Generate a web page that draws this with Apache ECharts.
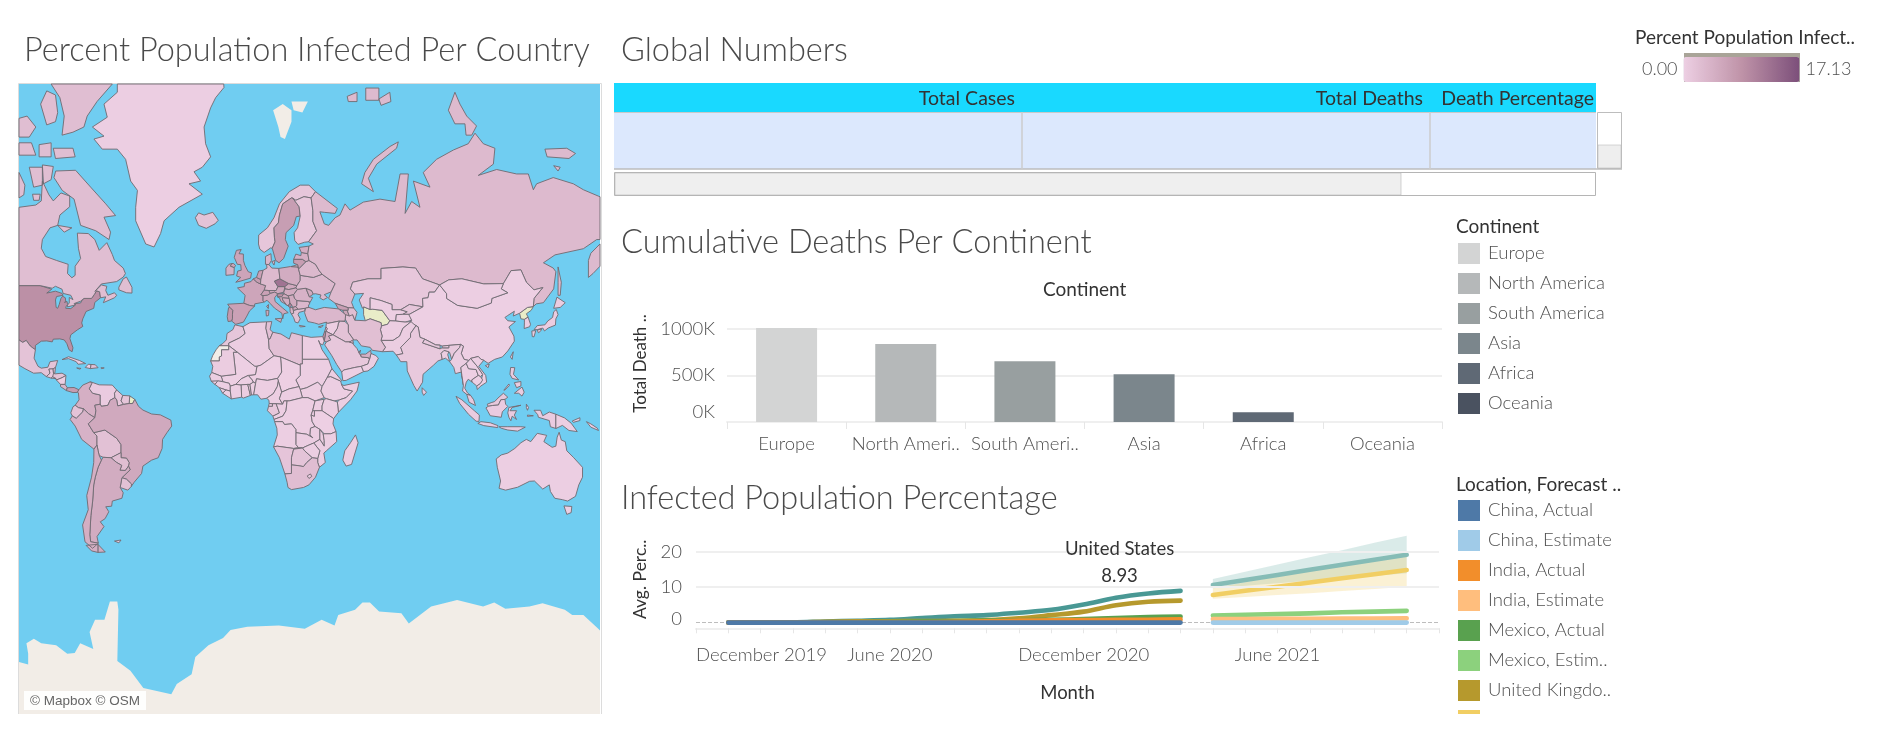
<!DOCTYPE html>
<html><head><meta charset="utf-8">
<style>html,body{margin:0;padding:0;background:#fff}#c{width:1880px;height:731px}</style>
<script src="https://cdn.jsdelivr.net/npm/echarts@6/dist/echarts.min.js"></script>
</head><body><div id="c"></div>
<script>
// ---------- values ----------
const continents = ['Europe','North America','South America','Asia','Africa','Oceania'];
const continentDeaths = [1007000,835000,652000,512000,104000,1000];
const continentColors = ['#D3D4D4','#B5B8B9','#989FA0','#7B868C','#5F6975','#4A5260'];

const months = ['December 2019','January 2020','February 2020','March 2020','April 2020','May 2020','June 2020','July 2020','August 2020','September 2020','October 2020','November 2020','December 2020','January 2021','February 2021','March 2021','April 2021','May 2021','June 2021','July 2021','August 2021','September 2021','October 2021','November 2021'];
const usActual   = [null,0.00,0.00,0.06,0.30,0.52,0.78,1.30,1.80,2.10,2.80,3.60,5.10,7.00,8.20,8.93];
const ukActual   = [null,0.00,0.00,0.03,0.20,0.35,0.40,0.45,0.52,0.70,1.20,2.10,3.10,4.90,5.90,6.20];
const mxActual   = [null,0.00,0.00,0.00,0.02,0.08,0.18,0.30,0.45,0.55,0.68,0.80,1.00,1.30,1.55,1.70];
const inActual   = [null,0.00,0.00,0.00,0.00,0.01,0.03,0.08,0.20,0.36,0.55,0.65,0.73,0.77,0.80,0.90];
const cnActual   = [null,0.00,0.01,0.01,0.01,0.01,0.01,0.01,0.01,0.01,0.01,0.01,0.01,0.01,0.01,0.01];
const pad = 16; // months before the estimates begin
const usEst = [10.6,12.0,13.4,14.9,16.3,17.7,19.1];
const usLow = [9.7,10.4,11.1,11.8,12.5,13.2,13.9];
const usHigh= [12.3,14.3,16.4,18.4,20.4,22.5,24.5];
const ukEst = [7.8,9.0,10.1,11.3,12.5,13.6,14.8];
const ukLow = [6.7,7.2,7.8,8.3,8.9,9.5,10.1];
const ukHigh= [9.7,11.4,13.0,14.7,16.4,18.1,19.8];
const mxEst = [2.0,2.2,2.4,2.6,2.9,3.1,3.3];
const inEst = [1.0,1.03,1.07,1.1,1.13,1.17,1.2];
const cnEst = [0.01,0.01,0.01,0.01,0.01,0.01,0.01];

const locationLegend = ['China, Actual','China, Estimate','India, Actual','India, Estimate','Mexico, Actual','Mexico, Estimate','United Kingdom, Actual','United Kingdom, Estimate','United States, Actual','United States, Estimate'];
const locationColors = {'China, Actual':'#4E79A7','China, Estimate':'#A0CBE8','India, Actual':'#F28E2B','India, Estimate':'#FFBE7D','Mexico, Actual':'#59A14F','Mexico, Estimate':'#8CD17D','United Kingdom, Actual':'#B6992D','United Kingdom, Estimate':'#F1CE63','United States, Actual':'#499894','United States, Estimate':'#86BCB6'};

const mapCountries = ['United States','Canada','Mexico','Guatemala','Belize','Honduras','El Salvador','Nicaragua','Costa Rica','Panama','Cuba','Haiti','Dominican Republic','Jamaica','Puerto Rico','Colombia','Venezuela','Guyana','Suriname','Ecuador','Peru','Bolivia','Brazil','Paraguay','Uruguay','Argentina','Chile','Falkland Islands','Greenland','Iceland','Norway','Sweden','Finland','Denmark','United Kingdom','Ireland','France','Spain','Portugal','Belgium','Netherlands','Germany','Switzerland','Austria','Czechia','Slovakia','Poland','Hungary','Italy','Slovenia','Croatia','Bosnia','Serbia','Montenegro','Albania','North Macedonia','Greece','Bulgaria','Romania','Moldova','Ukraine','Belarus','Lithuania','Latvia','Estonia','Russia','Kazakhstan','Uzbekistan','Kyrgyzstan','Tajikistan','Afghanistan','Pakistan','Iran','Iraq','Turkey','Georgia','Armenia','Azerbaijan','Syria','Lebanon','Israel','Jordan','Saudi Arabia','Yemen','Oman','UAE','Qatar','Kuwait','Cyprus','China','Taiwan','Mongolia','South Korea','Japan','India','Nepal','Bhutan','Bangladesh','Myanmar','Thailand','Laos','Vietnam','Cambodia','Malaysia','Indonesia','Papua New Guinea','Philippines','Sri Lanka','Australia','Morocco','Algeria','Tunisia','Libya','Egypt','Sudan','South Sudan','Chad','Niger','Mali','Mauritania','Senegal','Guinea-Bissau','Guinea','Sierra Leone','Liberia','Ivory Coast','Burkina Faso','Ghana','Togo','Benin','Nigeria','Cameroon','Central African Republic','Equatorial Guinea','Gabon','Congo','DR Congo','Uganda','Ethiopia','Eritrea','Somalia','Kenya','Tanzania','Rwanda','Zambia','Malawi','Mozambique','Zimbabwe','Angola','Namibia','Botswana','South Africa','Lesotho','Madagascar'];
const mapValues = [9.0,2.4,1.7,1.0,2.9,1.7,1.0,0.1,3.9,7.2,0.5,0.1,2.1,0.9,3.0,4.5,0.5,1.1,1.4,1.7,4.1,2.0,5.4,2.4,2.0,5.0,4.7,0.6,0.1,1.7,1.3,7.0,1.2,3.7,6.1,4.3,6.0,6.6,7.8,7.2,6.6,3.0,6.5,5.5,12.5,5.4,5.0,5.0,5.6,9.0,5.6,4.8,5.2,11.0,4.0,5.8,2.2,3.4,4.1,5.2,3.1,3.2,7.2,4.5,4.8,3.0,1.1,0.2,1.3,0.2,0.1,0.3,2.3,1.9,3.4,6.8,5.9,2.4,0.1,5.8,9.0,4.5,1.1,0.01,0.1,4.4,5.6,4.7,3.4,0.01,0.01,0.1,0.2,0.4,0.9,0.9,0.1,0.3,0.3,0.04,0.01,0.01,0.01,1.0,0.5,0.1,0.6,0.4,0.1,1.3,0.3,2.1,2.1,0.2,0.1,0.1,0.03,0.02,0.05,0.4,0.3,0.2,0.2,0.05,0.05,0.1,0.06,0.3,0.1,0.05,0.1,0.15,0.1,0.5,1.2,0.2,0.1,0.1,0.1,0.1,0.1,0.2,0.01,0.1,0.3,0.3,0.2,0.2,0.1,1.5,1.6,2.5,0.5,0.1];

// ---------- map geometry, lon,lat rings ----------
const LL = -104.7, LR = 161.2, LT = 81.48, LB = -80.08;
const geometry = {
'United States':'-104.7,49 -95,49 -89.7,47.9 -92,46.7 -88,47.3 -85,46.6 -84.5,46 -87.5,45.6 -88,44.5 -87.7,42 -87,41.7 -86.3,43 -85.5,45 -84.7,45.7 -83.5,45.2 -83.3,44 -83.9,43.7 -82.7,44 -82.5,43 -83.2,42.2 -83.3,41.7 -81,41.6 -78.9,42.8 -79,43.3 -76.5,43.5 -76,44.2 -75,45 -71.5,45 -70.3,46.2 -69.2,47.4 -67.8,47.1 -67.4,45.2 -70,43.7 -70.5,41.7 -74,40.6 -75.5,38 -76,36.5 -75.5,35.2 -78,33.9 -81,32 -81.4,30.5 -80,26.8 -80.4,25.2 -81.8,26 -82.8,28.5 -84,30 -86,30.4 -89,30.3 -89.5,29.2 -92,29.6 -94.5,29.5 -97.2,27.8 -97.2,26 -99.5,27.5 -101.4,29.8 -103,29 -104.7,30',
'Canada':'-104.7,49 -95,49 -89.5,48.2 -88,48.8 -85,47.9 -84.5,46.6 -81,46 -80,44.6 -81.7,45.3 -81.7,43.5 -82.5,42.8 -82.5,42.2 -79,42.8 -79.5,43.3 -76.5,44.1 -75,45 -71.5,45 -70.3,46.2 -69.2,47.4 -67.8,47.1 -67.4,45.2 -65,45.5 -66.1,43.6 -61,45.2 -60,46 -61,46.8 -64,46 -65,47.5 -64.5,48.8 -67,49.2 -70,47.2 -67,49.5 -60,50.2 -57,51.5 -56,52.5 -57,54 -61,56 -62,57.5 -64.5,60.3 -68,58.5 -70,61 -73,62.3 -78,62.4 -77.5,59 -76.5,56.5 -79,54.5 -79,52 -80.5,51.3 -82.5,52.5 -82.2,55 -87.5,56 -92.5,57 -94.5,59 -94,61 -90.5,63.5 -87,64 -86,66 -81.5,67.5 -81.5,69.3 -85.5,69.8 -89,68.5 -91,69.5 -94,71.6 -94.5,68.5 -97,67.8 -104.7,67.4|-87.9,73 -78.8,73.1 -71.9,70.7 -65,68 -60.5,65.9 -65.8,65.6 -62.8,62.6 -63.5,61 -69.6,62.9 -76.5,64 -79.5,68.8 -84.9,70.2 -88.7,72.1|-104.7,72.8 -102,71 -102.5,69.5 -104.7,69|-90,81.48 -62,81.48 -69,80.2 -73.5,79 -75,78 -80,77.5 -85,77.2 -84,79 -86,80.5|-94.8,80 -92,81 -88,80.7 -87,79.3 -88,78.5 -92,78.2|-89,75.8 -80,75.8 -79,74.8 -88,74.6|-95.5,76.2 -90,76.4 -90,74.8 -95.5,74.8|-104.7,78.8 -101,79 -97,78 -100,77 -104.7,77|-104.7,76.4 -99,76.4 -97,75 -104.7,75|-100,73.5 -94,73.5 -94,71 -98,70.7|-94,73.8 -89,73.6 -90,71.8 -93.5,71.2|-98.5,69.6 -95,69.6 -95.5,68.6 -98,68.6|-59,47.7 -55.5,46.8 -53,46.7 -53,48.5 -55.5,51.5 -57,51 -59,48.5|-87,64 -80.5,63.5 -84,62.6',
'Greenland':'-10.9,81.24 -14.7,80.5 -17,79.7 -20,78 -19.3,76.3 -17,74.8 -20.8,73.5 -24.6,72.9 -21.6,71.6 -26.9,71.2 -20.8,69.6 -31.5,67.4 -38.3,64.9 -39.9,62.3 -42.9,59.3 -46.7,60 -51.3,64.9 -51.3,67.4 -50.5,70.2 -53.6,71.6 -55.9,74.5 -59.7,75.7 -66.6,75.7 -70.4,76.8 -65.8,77.1 -71.1,78 -64.3,78.9 -65.8,80 -59.7,80.9 -59.7,81.48 -11,81.48',
'Iceland':'-24,65.5 -22.5,64 -19,63.4 -15,64.3 -13.5,65 -16,66.5 -20,66 -22.5,66.4',
'Mexico':'-104.7,30 -103,29 -101.4,29.8 -99.5,27.5 -97.2,26 -97.8,22.5 -96,19 -94.5,18.2 -91.5,18.6 -90.5,21 -87,21.5 -88,18.5 -89.1,17.9 -91,17.8 -90.5,16 -92.2,14.5 -94.5,16.2 -98,16 -102,18 -104.7,19.5',
'Guatemala':'-92.2,14.5 -90.5,16 -91,17.8 -89.1,17.9 -88.9,15.9 -88.2,15.7 -89.3,14.4 -90,13.8',
'Belize':'-89.1,17.9 -88,18.5 -88.3,16 -88.9,15.9',
'Honduras':'-88.9,15.9 -88.2,15.7 -85,16 -83.2,15 -85,14 -87.3,13 -89.3,14.4',
'El Salvador':'-90,13.8 -89.3,14.4 -87.7,13.6 -88,13.2',
'Nicaragua':'-83.2,15 -83.6,11 -85.7,11 -87.6,13 -85,14',
'Costa Rica':'-83.6,11 -82.6,9.5 -83,8.2 -85.7,10 -85.7,11',
'Panama':'-82.6,9.5 -79.5,9.6 -77.3,8.6 -78,7.4 -80,7.3 -83,8.2',
'Cuba':'-85,21.9 -82,23.1 -77,21.5 -74.2,20.2 -77.7,19.9 -78.5,21 -82,22.3',
'Haiti':'-74.4,18.5 -72,18 -71.7,19.8 -73,19.9',
'Dominican Republic':'-71.7,19.8 -72,18 -68.5,18.4 -69.8,19.7',
'Jamaica':'-78.3,18.3 -76.3,18.1 -77,17.8',
'Puerto Rico':'-67.2,18.4 -65.7,18.3 -67,18',
'Colombia':'-77.3,8.6 -75.5,10.7 -72,12.2 -71.3,11.5 -72.5,9 -71,7 -67.5,6.2 -67.5,2 -70,1.5 -69.5,-1 -70,-4.2 -72.8,-2.4 -75.2,-0.1 -77.5,0.4 -79,1.5 -77.2,4 -77.5,7.2 -78,7.4',
'Venezuela':'-72,12.2 -68,10.8 -62,10.7 -60,8.5 -61,7 -60.8,5 -63,3.8 -64,1.5 -67,1 -67.5,2 -67.5,6.2 -71,7 -72.5,9 -71.3,11.5',
'Guyana':'-60,8.5 -57.2,6 -58,3.5 -56.8,1.9 -59.5,1.2 -60,4 -60.8,5 -61,7',
'Suriname':'-57.2,6 -54,5.8 -54.3,2.3 -56.8,1.9 -58,3.5',
'Ecuador':'-79,1.5 -77.5,0.4 -75.2,-0.1 -75.5,-1.5 -78.5,-4.5 -80.3,-3.4 -81,-2 -80,0.8',
'Peru':'-75.2,-0.1 -72.8,-2.4 -70,-4.2 -73,-7 -70.5,-11 -69,-12.5 -69,-16.5 -70.4,-18.3 -76,-14 -79,-8 -81.3,-5 -80.3,-3.4 -78.5,-4.5 -75.5,-1.5',
'Bolivia':'-70.5,-11 -65.4,-9.8 -60,-13.5 -58,-16.3 -58,-19.8 -62.6,-22 -66.2,-21.8 -68,-21 -68.5,-19 -69,-16.5 -69,-12.5',
'Brazil':'-51.7,4.2 -50,1 -48,-0.7 -44,-2.5 -40,-2.9 -35.2,-5.3 -34.8,-8 -37,-11 -39,-14 -39.2,-18 -41,-22 -44,-23 -48,-25.5 -48.6,-28.5 -52,-32 -53.4,-33.7 -53.2,-32.7 -55.5,-30.8 -57.6,-30.2 -53.8,-27 -54.6,-25.5 -54.3,-24 -55.5,-22.2 -58,-22 -58,-19.8 -58,-16.3 -60,-13.5 -65.4,-9.8 -70.5,-11 -73,-7 -70,-4.2 -69.5,-1 -70,1.5 -67.5,2 -67,1 -64,1.5 -63,3.8 -60.8,5 -60,4 -59.5,1.2 -56.8,1.9 -54.3,2.3 -52.7,2.3',
'Paraguay':'-58,-19.8 -58,-22 -55.5,-22.2 -54.3,-24 -54.6,-25.5 -56,-27.3 -58.5,-27.2 -57.7,-25.2 -60,-24 -62.6,-22',
'Uruguay':'-57.6,-30.2 -55.5,-30.8 -53.2,-32.7 -53.4,-33.7 -54.9,-35 -58.4,-34',
'Argentina':'-66.2,-21.8 -62.6,-22 -60,-24 -57.7,-25.2 -58.5,-27.2 -56,-27.3 -54.6,-25.5 -53.8,-27 -57.6,-30.2 -58.4,-34 -57,-36 -57.6,-38 -62,-39 -62.3,-40.8 -65,-41 -63.6,-42.7 -65.3,-45 -67.5,-46 -65.8,-47.5 -69,-50.5 -68.4,-52.4 -71.9,-52 -72.3,-50 -71.8,-44 -71,-39 -70.5,-33 -69.8,-30 -68.5,-26 -67,-23|-68.6,-52.7 -65.2,-54.8 -68.6,-54.9',
'Chile':'-70.4,-18.3 -69,-16.5 -68.5,-19 -68,-21 -67,-23 -68.5,-26 -69.8,-30 -70.5,-33 -71,-39 -71.8,-44 -72.3,-50 -71.9,-52 -68.4,-52.4 -71,-53.8 -74.5,-52 -75.6,-47 -73,-42 -73.7,-37 -71.5,-30 -70.5,-24|-68.6,-52.7 -68.6,-54.9 -71.5,-54.5 -74,-53',
'Falkland Islands':'-61,-51.8 -58,-51.5 -59,-52.3',
'Norway':'4.9,60 5.5,58.8 7.5,58 10.5,59.1 11.2,59 12.5,60.5 12.2,61.5 12,63.5 14,64.5 14.5,66 16,68 20,69 22,68.6 25.7,69.2 29,69 31,70 28,71 24,71 19,70 14.5,68 12,65.5 9,63.5 5,62',
'Sweden':'11.2,59 12.8,56 14.3,55.4 16.4,56.5 18.5,59.5 17.2,61 17.5,62.5 21,64 22.2,65.7 24,65.8 23.5,67.5 20.5,69 20,69 16,68 14.5,66 14,64.5 12,63.5 12.2,61.5 12.5,60.5',
'Finland':'24,65.8 22.8,63.5 21.2,62.5 21.5,60.8 23,59.9 26,60.4 27.8,60.5 31.5,62.9 29.8,64.8 29.8,66.8 29,69 25.7,69.2 22,68.6 20.5,69 23.5,67.5',
'Denmark':'8.1,55 8.1,57 10.6,57.7 10.8,56 9.7,54.9|11,55.7 12.5,56 12,54.8',
'United Kingdom':'-5.5,50 -3.5,50.3 1.3,51.2 1.7,52.7 0.2,53 -1.3,54.7 -2,56 -2,57.6 -4,57.7 -3,58.7 -5.2,58.5 -6.2,56.8 -4.8,55 -3.2,54.9 -3,53.4 -4.6,53.2 -5.1,51.8 -3.2,51.4|-8,54.5 -6.2,54.1 -5.6,54.7 -6.5,55.2 -7.4,55.2',
'Ireland':'-10,52 -6.3,52.2 -6.2,54.1 -8,54.5 -7.4,55.2 -8.6,55 -10,54',
'France':'-1.8,43.4 -1.2,46 -4.7,48.3 -1.6,48.7 -1.5,49.7 1.5,50.2 2.5,51 4.2,50 5.8,49.5 8.2,49 7.5,47.6 6,46.2 7,45.9 7,44.2 7.5,43.8 3.2,43.2 3.1,42.4 0.7,42.7|8.6,42.4 9.5,43 9.4,41.6',
'Spain':'-9.2,43.1 -1.8,43.4 0.7,42.7 3.1,42.4 0.8,40.8 -0.4,39 -2,36.8 -5.5,36 -7.4,37.2 -7,38.2 -7,39.6 -6.9,41 -8.2,42',
'Portugal':'-8.2,42 -6.9,41 -7,39.6 -7,38.2 -7.4,37.2 -9,37 -9.4,38.8 -8.8,41.9',
'Belgium':'2.5,51 4,51.4 6,50.8 5.8,49.5 4.2,50',
'Netherlands':'4,51.4 5,53.2 7,53.4 6,50.8',
'Germany':'6,50.8 7,53.4 8.8,54 8.6,55 9.7,54.9 11,54 14.2,53.9 14.7,51 12.2,50.3 13.8,48.7 13,47.5 9.6,47.5 7.5,47.6 8.2,49 5.8,49.5',
'Switzerland':'6,46.2 7.5,47.6 9.6,47.5 10.4,46.6 9,46 7,45.9',
'Austria':'9.6,47.5 13,47.5 13.8,48.7 17,48.7 16.5,47 13.7,46.5 12.3,47 10.4,46.6',
'Czechia':'12.2,50.3 14.7,51 18.8,49.6 17,48.7 13.8,48.7',
'Slovakia':'17,48.7 18.8,49.6 22.5,49 22,48.3 18.8,47.8 17,48',
'Poland':'14.2,53.9 19.5,54.4 23,54.3 24,52 24,50.5 22.5,49 18.8,49.6 14.7,51',
'Hungary':'16.5,47 17,48 18.8,47.8 22,48.3 22.8,47.9 21,46.2 18.5,45.8 16.5,46.5',
'Italy':'7,44.2 7,45.9 9,46 10.4,46.6 12.3,47 13.7,46.5 12.3,45.2 12.5,44 16,41.8 18.5,40.2 16.5,39.8 16,38 15.6,40 12.2,41.8 10.3,43.3 8.8,44.4 7.5,43.8|12.5,38 15.6,38.2 15.1,36.7|8.3,41 9.7,41 9.5,39.2 8.5,39',
'Slovenia':'13.7,46.5 16.5,46.5 15.5,45.5 13.6,45.5',
'Croatia':'13.6,45.5 14.5,45.2 15.2,44 17.5,43 18.5,42.5 17.7,42.9 16,44.5 15.8,45.2 19,45 18.5,45.8 16.5,46.5 15.5,45.5',
'Bosnia':'15.8,45.2 16,44.5 17.7,42.9 18.5,42.5 19.3,43.5 19,45',
'Serbia':'19,45 18.5,45.8 21,46.2 21.4,45 22.5,44.3 22.5,42.8 22,42.3 20.6,42 20.1,42.7 19.3,43.5',
'Montenegro':'18.5,42.5 19.3,41.9 20.1,42.7 19.3,43.5',
'Albania':'19.3,41.9 20.6,42 20.9,40.9 21,40 20,39.7 19.4,40.5',
'North Macedonia':'20.6,42 22,42.3 23,41.4 20.9,40.9',
'Greece':'21,40 20.9,40.9 23,41.4 26.3,41.7 26,40.8 23.5,40.3 23,39.5 24,38 23,36.5 21.7,36.8 21,38.4 20,39.7|23.6,35.6 26.3,35.2 24,35',
'Bulgaria':'22.5,42.8 22.5,44.3 27.5,44 28.5,43.6 27.7,42.5 28,42 26.3,41.7 23,41.4 22,42.3',
'Romania':'21,46.2 22.8,47.9 26.6,48.2 28.2,45.5 29.7,45.3 28.6,43.8 27.5,44 22.5,44.3 21.4,45',
'Moldova':'26.6,48.2 29.2,47.5 30,46.4 28.2,45.5',
'Ukraine':'22,48.3 22.5,49 24,50.5 24,52 30,51.4 34,52.3 40,49.6 38.2,47.1 35,46.2 36.5,45.3 34.5,44.5 33,45.2 33.5,46.1 31,46.5 30,46.4 29.2,47.5 26.6,48.2 22.8,47.9',
'Belarus':'24,52 23,54.3 23.5,53.9 26.6,55.7 28,56 31,55 32.7,53.3 34,52.3 30,51.4',
'Lithuania':'21,55.3 21,56.3 25,56.3 26.6,55.7 23.5,53.9 23,54.3 22.8,54.9',
'Latvia':'21,56.3 22,57.6 24.3,57.2 24.5,58 27.5,57.7 28,56 26.6,55.7 25,56.3',
'Estonia':'24.5,58 23.5,59.2 28,59.5 27.5,57.7',
'Russia':'28,59.5 30,60 27.8,60.5 31.5,62.9 29.8,64.8 29.8,66.8 29,69 31,70 41,67.2 40,66.3 35,66.5 33,66.6 35,64.3 37,64 40,65.5 42.2,66 44.5,68 46.8,66.9 52.9,68.3 60.5,68.8 67.4,68.4 69.7,72.6 73.5,72.6 72,66.3 75,68.4 78.8,67.4 75.8,71.6 83.4,70.7 80.3,72.8 86.4,74.5 94.1,75.6 100.9,76.3 104,77.4 107.8,76.3 113.1,75.8 112.4,73.9 105.5,72.4 113.9,73.2 123,72.6 128.4,72.6 130.7,70.3 132.2,71.2 139.8,72.1 149,71.2 153.6,70.3 160.4,69.3 161.2,69.2 161.2,61 159.7,61 153.6,58.9 140.6,57.4 135.3,55.4 139.8,54 141,53 140,48 135.3,43.6 132,43.2 130.7,42.3 131,45 135,48.4 131,47.7 127.5,50 125,53.5 120.5,53.3 117,49.6 108,49.5 98,51 92,50.7 87.8,49.2 80,51 76.8,54 71,54.3 61,53.9 61,51 55,51 48,50 47,48 49,46.4 47.5,43.7 48.5,41.8 46,41.9 40,43.4 37,45 38.2,47.1 40,49.6 34,52.3 32.7,53.3 31,55 28,56 27.5,57.7|161.2,60 157,57.8 155.9,56 155.9,51.4 158,52.5 161.2,54.5|68.9,76.5 65.1,76 57.5,74.5 53.6,72.8 52.1,71.2 57.5,70 55.2,72 59,73.9 68.1,75.8|94.8,80.9 97.1,80 100.2,79 104.7,78.1 102.5,77.2 99.9,77.2 99.4,78.3 94.8,78.3 91.8,79.5|136,75.7 146,75.8 150,75.2 147,74.6 137,74.8|140,73.7 143,73.5 142,73|142,54.3 143.5,50 143,46 142,46 142,50|45.5,80.6 50,80.9 50,80.2 46,80.2|54,81.2 60,81.2 60,80.3 54,80.3|60,80.4 65,80.9 65.5,80.2 61,79.9|19.8,54.4 22.8,54.9 23,54.3',
'Kazakhstan':'49,46.4 47,48 48,50 55,51 61,51 61,53.9 71,54.3 76.8,54 80,51 87.8,49.2 85.5,47 83,47 82.5,45.2 80,45 80.2,42.2 74,43 70,41.2 66,41.2 66,43 61,44.3 56,45.2 56,41.3 53,42.2 52.5,41.7 51,44.5 53,46.6',
'Uzbekistan':'56,45.2 61,44.3 66,43 66,41.2 70,41.2 73,40.5 71,39.6 68,39.5 67.7,37.2 65,37.3 61.5,41 57,41.4 56,41.3',
'Kyrgyzstan':'70,41.2 74,43 80.2,42.2 74,39.6 71,39.6 73,40.5',
'Tajikistan':'68,39.5 71,39.6 74,39.6 75,37.5 72,36.8 67.7,37.2',
'Afghanistan':'61.2,35.4 64,36 65,37.3 67.7,37.2 72,36.8 74.8,37 71,34.5 69.5,31.5 66.5,29.8 61,29.8 61.5,31.5 60.7,34',
'Pakistan':'61,29.8 66.5,29.8 69.5,31.5 71,34.5 74.8,37 77,35.5 74.5,32.5 74.5,31 70,27 71,24.4 68,23.8 66.5,25.4 61.6,25.2 63,27',
'Iran':'44.8,39.5 48,39.5 49,37.5 53.8,37.3 56,38 61,36.6 61.2,35.4 60.7,34 61.5,31.5 61,29.8 63,27 61.6,25.2 57,25.8 56,27 52,27.6 50,30 48.5,30 46,33 46,35.8 44.5,38',
'Iraq':'42.5,37.2 44.5,37 46,35.8 46,33 48.5,30 47.5,29.2 44.8,29.2 39,32 41,34.5 41.5,36.5',
'Turkey':'26,40.2 26.5,41.8 28,42 31,41.2 35,42 41.5,41.5 44,40 44.8,39.5 44.5,37.2 42,37.2 36.5,36.3 36,36.8 32.5,36 30.5,36.5 27.5,37 26.5,39',
'Georgia':'40,43.4 46,41.9 46,41 43.5,41 41.5,41.5',
'Armenia':'43.5,41 45.5,41 46.5,39 44.8,39.5 44,40',
'Azerbaijan':'46,41.9 48.5,41.8 50,40.3 49,37.5 48,39.5 46.5,39 45.5,41 46,41',
'Syria':'36,36.8 36.5,36.3 42,37.2 41.5,36.5 41,34.5 39,32 36,33.3 35.8,35',
'Lebanon':'35.8,35 36.5,34.4 35.7,33.2 35.1,33.1',
'Israel':'35.1,33.1 35.7,33.2 35.5,31.5 35,29.5 34.3,31.3',
'Jordan':'36,33.3 39,32 37,31.5 38,30 36,29.2 35,29.5 35.5,31.5 35.7,33.2',
'Saudi Arabia':'36,29.2 38,30 37,31.5 39,32 44.8,29.2 47.5,29.2 48.5,28 50,26.5 51,24.6 52,23 55.3,22.7 55.7,22 55,20 52,19 49,18.5 44,17.4 43,16.5 40.7,19.8 38.5,23.5 35.2,28',
'Yemen':'43,16.5 44,17.4 49,18.5 52,19 53,16.7 45,12.8 43.5,12.7',
'Oman':'52,19 55,20 55.7,22 56.4,24.5 58.6,23.6 59.8,22.5 57.8,19 55,17 53,16.7',
'UAE':'51.6,24.2 52,23 55.3,22.7 55.7,22 56.4,24.5 56.3,25.8 54,24.2',
'Qatar':'50.8,24.7 51.6,25.9 51.3,24.6',
'Kuwait':'46.5,29.1 48.4,28.6 48,30',
'Cyprus':'32.3,35 34.5,35.6 33.6,34.8',
'China':'73.7,39.5 74,39.6 80.2,42.2 80,45 82.5,45.2 83,47 85.5,47 87.8,49.2 91,46.5 91,45 96,42.7 105,41.7 111.5,43.5 111.7,45 119,46.8 116,48 117,49.6 120.5,53.3 125,53.5 127.5,50 131,47.7 135,48.4 131,45 130.7,42.3 128,42 124.4,40 121.5,39 122,40.7 119,39.2 117.7,38.5 119,37.3 122.5,37 119.5,35 121.8,31.5 122,29.5 119,25.5 116.5,23 113,22 110,20.3 108,21.6 106.7,22 105.5,23.2 102,22.4 101.2,21.5 99,22 97.7,24.5 98.7,27.5 97.4,28.2 92,27.8 89,27.5 88,27.9 86,28 81,30.3 78.8,31 78,35 75.7,36.2 74.8,37 75,37.5|108.7,19.3 110.5,20 110,18.4',
'Taiwan':'120.2,23 121.5,25.2 121,22',
'Mongolia':'87.8,49.2 92,50.7 98,51 108,49.5 117,49.6 116,48 119,46.8 111.7,45 111.5,43.5 105,41.7 96,42.7 91,45 91,46.5',
'South Korea':'126.6,37.8 128.3,38.6 129.4,36 129,35.1 126.5,34.4 126.6,36.5',
'Japan':'131,34 132.5,35.5 136,35.8 137.3,37.2 139.5,38.5 140,40.5 141.2,41.3 142,39.5 141,38 140.8,35.7 137.5,34.6 135.8,33.5 135,34.6 132.5,34|140,41.7 141.5,45.4 145.3,43.6 143,42|130,33.5 131.8,33.6 131,31.2 130.2,31.3|132.5,33.8 134.5,34.2 134,33.4 133,32.8',
'India':'68,23.8 71,24.4 70,27 74.5,31 74.5,32.5 77,35.5 78,35 78.8,31 81,30.3 80,28.8 88,26.4 88.2,26.5 89,26.8 92,26.8 92,27.8 97.4,28.2 97,27 94.5,24.5 93.3,22 92.4,24.9 92,25.2 89.8,25.7 88.5,24.5 89,22 87,21.3 85,19.5 80.2,15.5 80,12 77.5,8 76,10.5 73,17 72.8,21 70,21 69,22.5',
'Nepal':'81,30.3 86,28 88,27.9 88,26.4 80,28.8',
'Bhutan':'89,27.5 92,27.8 92,26.8 89,26.8',
'Bangladesh':'88.5,24.5 89.8,25.7 92,25.2 91.5,24 92.4,21 90.5,22.5 89,22',
'Myanmar':'92.4,21 93.3,22 94.5,24.5 97,27 97.4,28.2 98.7,27.5 97.7,24.5 99,22 101.2,21.5 100,20.3 97.5,18.5 98,15 98.7,10.5 97.7,16.5 95,15.8 94.3,18.5',
'Thailand':'100,20.3 101,18 104.5,17.6 105.5,15 102.5,13 102.7,12 100.9,13.3 100,12 99.3,9.3 100.5,7.2 102,6 100.2,6.5 98.3,8 98.7,10.5 98,15 97.5,18.5',
'Laos':'100,20.3 101.2,21.5 102,22.4 105,19 107.5,15.5 106.5,14.5 105.5,15 104.5,17.6 101,18',
'Vietnam':'102,22.4 105.5,23.2 106.7,22 108,21.6 105.7,19 108.9,15 109.3,12 106.7,10.3 105,8.7 104.8,10.3 106.5,11.5 107.5,15.5 105,19',
'Cambodia':'102.7,12 102.5,13 105.5,15 106.5,14.5 107.5,13 106.5,11.5 104.8,10.3',
'Malaysia':'100.2,6.5 102,6 103.4,4 104.2,1.4 101.3,2.9|109.6,2 111.4,2.7 113,3.2 114.5,4.8 117,7 119,5.2 117.7,4.2 115.8,4 114.7,1.6 112,1.4 110,1',
'Indonesia':'95.3,5.6 98,4 103.7,-1 106,-3 105.8,-5.9 104.5,-5.8 101,-2.6 97,2.3|105.3,-6.8 106.7,-6 111,-6.5 114.5,-7.8 114.4,-8.7 108,-7.8|109,0.3 110,1 112,1.4 114.7,1.6 115.8,4 117.7,4.2 118,2 119,1 116.5,-1.5 116,-4 111,-3.3 110,-1.5|119.5,0.5 125,1.5 121,0.5 120,-1 123,-1 122,-3 123,-5 121,-3.5 120.4,-5.6 119.5,-4 119,-2|131,-0.8 134,-0.8 135,-3.3 138,-1.6 141,-2.6 141,-9.1 138.5,-8.3 138,-5.5 133,-4 132.7,-2.8|115,-8.3 119,-8.3 125,-8.3 127,-8.5 123.5,-10.3 119,-9.8 116,-9|127.5,2 128.5,0.5 128,-0.8 127.5,0.5|128,-3 130.7,-3.3 128,-3.6',
'Papua New Guinea':'141,-2.6 145,-4.3 148,-6.7 150.8,-10.5 147,-10 144,-7.7 141,-9.1|148.5,-5.7 152,-4.2 152,-5.5 149,-6.3|155,-6 157,-7 160,-9 160.5,-10 157,-8.5',
'Philippines':'120.3,18.5 122.2,18.4 121.6,15.5 124,13 121,13.7 120,15.5|122,7 125.5,9.8 126.5,7.5 125.5,5.7 124,7|122,11.8 125,12.3 125,10.3 123,9.5|117.2,8.4 119.5,11.2 119.7,10.5 117.5,8.3',
'Sri Lanka':'79.8,9.5 81.8,7.5 80.5,6 79.8,7.5',
'Australia':'113.7,-22.5 114.2,-26 115.7,-31.5 115,-34.3 118,-35 123.5,-33.9 129,-31.6 131.2,-31.5 135,-34.6 138,-33 138.5,-35.5 140.5,-38 144,-38.5 146.4,-39 150,-37.3 151.5,-33 153.2,-30 153.2,-26 149,-21.8 146,-19 145.3,-15 143.5,-14.3 142.5,-10.8 141.6,-13 141,-17 139.3,-17.5 135.5,-15 136.8,-12.2 132.5,-11.3 129.5,-15 127.5,-14 125,-15.5 122.2,-18 119,-20 116,-20.8|144.7,-40.7 148.3,-40.9 148,-43 146,-43.6',
'Morocco':'-5.9,35.8 -2.2,35.1 -1.2,32.5 -3.7,30.8 -8.7,28.7 -8.7,27.7 -13,27.7 -11.5,28.5 -9.8,30 -9.5,32.5 -6.8,34',
'Algeria':'-2.2,35.1 1,36.6 8.6,36.9 8.3,34.5 9.5,30.2 9.8,26.5 12,23.5 6,19.5 4.2,19 3.2,19 -4.8,25 -8.7,27.7 -8.7,28.7 -3.7,30.8 -1.2,32.5',
'Tunisia':'8.6,36.9 11,37 10.2,34 11.5,33 10.2,30.4 9.5,30.2 8.3,34.5',
'Libya':'11.5,33 15.2,32.3 19,30.3 20,32.8 25,31.7 25,22 25,20 24,20 24,19.5 15,23 12,23.5 9.8,26.5 9.5,30.2 10.2,30.4',
'Egypt':'25,31.7 29,31 34.3,31.3 35,29.5 34.3,28 33,28.5 32.4,29.8 34,26 37,22 25,22',
'Sudan':'25,22 37,22 38.5,18 36.5,14.3 34,10 32,12 27,9.5 24,8.7 23.5,10 22,13 24,15 24,19.5 24,20 25,20',
'South Sudan':'24,8.7 27,9.5 32,12 34,10 33.5,8 35,5 30.8,3.5 27.5,5 25,5',
'Chad':'15,23 24,19.5 24,15 22,13 23.5,10 19,9 15.5,7.5 14,12.5 13.6,13.7 15.5,16.5',
'Niger':'12,23.5 15,23 15.5,16.5 13.6,13.7 9,12.8 4,13.5 3.6,11.5 2.5,12 2,13 0.2,15 3.5,15.4 4.2,19 6,19.5',
'Mali':'-4.8,25 3.2,19 4.2,19 3.5,15.4 0.2,15 -3,13.5 -5.5,11 -8,10.2 -8.5,11.5 -11.4,12.2 -12.2,14.7 -5.5,15.5 -6.6,25',
'Mauritania':'-12,26 -8.7,26 -8.7,27.7 -4.8,25 -6.6,25 -5.5,15.5 -12.2,14.7 -16.5,16.3 -16,19 -17,21.3 -13,21.3 -13,23 -12,23.4',
'Senegal':'-16.5,16.3 -12.2,14.7 -11.4,12.4 -16.7,12.4 -17.5,14.7',
'Guinea-Bissau':'-16.7,12.4 -13.7,12.6 -15,11',
'Guinea':'-13.7,12.6 -11.4,12.2 -8.5,11.5 -8,10.2 -8,8 -10,8.5 -13,9.5 -15,11',
'Sierra Leone':'-13,9.5 -10,8.5 -11.5,7',
'Liberia':'-11.5,7 -10,8.5 -8,8 -7.5,4.4',
'Ivory Coast':'-8,8 -8,10.2 -5.5,11 -3,10.8 -2.8,5.2 -7.5,4.4',
'Burkina Faso':'-5.5,11 -3,13.5 0.2,15 2,13 2.5,12 1,11 0,11 -3,10.8',
'Ghana':'-3,10.8 0,11 1.2,6 -2,4.8 -2.8,5.2',
'Togo':'0,11 1,11 1.7,6.2 1.2,6',
'Benin':'1,11 2.5,12 3.6,11.5 2.7,6.3 1.7,6.2',
'Nigeria':'2.7,6.3 3.6,11.5 4,13.5 9,12.8 13.6,13.7 14,12.5 13.5,10 11.7,6.8 8.6,4.7 6,4.3 4.5,6.3',
'Cameroon':'8.6,4.7 11.7,6.8 13.5,10 14,12.5 15.5,7.5 14.5,4.5 16,2 13,2.2 9.8,2.3 9.7,3.8',
'Central African Republic':'15.5,7.5 19,9 23.5,10 24,8.7 25,5 19,3.5 18,3.5 16.5,3.5 16,2 14.5,4.5',
'Equatorial Guinea':'9.8,2.3 11.3,2.2 11.3,1 9.5,1',
'Gabon':'9.5,1 11.3,1 11.3,2.2 13,2.2 14.5,-2 11.5,-3.5 9,-1',
'Congo':'13,2.2 16,2 16.5,3.5 18,3.5 17.5,-1 16,-3.5 12,-5 11.5,-3.5 14.5,-2',
'DR Congo':'18,3.5 19,3.5 25,5 27.5,5 30.8,3.5 29.7,-1 29,-3 29.5,-6 30.8,-8.2 28.7,-9 28.5,-12 29.8,-13.3 27,-11.7 22,-11 22,-9.5 20,-7 16.8,-7.3 16,-6 12.3,-6 12,-5 16,-3.5 17.5,-1',
'Uganda':'30.8,3.5 35,4.3 34,1.2 34,-1 30.5,-1 29.7,-1',
'Ethiopia':'34,10 36.5,14.3 38,14.5 42.5,12.5 42.9,11 44,9 48,8 45,5 42,4 39.5,3.5 36,4.5 35,5 33.5,8',
'Eritrea':'36.5,14.3 38.5,18 43,12.7 42.5,12.5 38,14.5',
'Somalia':'42.9,11 44,10.5 51,12 50,8 47,4 41.5,-1.7 41,3 42,4 45,5 48,8 44,9',
'Kenya':'34,1.2 35,4.3 36,4.5 39.5,3.5 41,3 41.5,-1.7 39.3,-4.6 34,-1',
'Tanzania':'30.5,-1 34,-1 39.3,-4.6 39,-7 40.4,-10.5 38,-11.5 35,-11.5 33,-9.5 30.8,-8.2 29.5,-6 29,-3 30.5,-3.5',
'Rwanda':'29,-3 29.7,-1 30.5,-1 30.5,-3.5',
'Zambia':'22,-11 27,-11.7 29.8,-13.3 28.5,-12 28.7,-9 30.8,-8.2 33,-9.5 33,-14 30.2,-15.6 28,-16.5 25,-17.8 23.3,-17.7 22,-16.3',
'Malawi':'33,-9.5 34.5,-11.5 35,-14.5 35,-17 33,-14',
'Mozambique':'35,-11.5 38,-11.5 40.4,-10.5 40.7,-15 36,-19 34.8,-20 35.5,-24 32.8,-26 32,-24 32,-22.3 33,-19 30.2,-15.6 33,-14 35,-17 35,-14.5 34.5,-11.5',
'Zimbabwe':'25,-17.8 28,-16.5 30.2,-15.6 33,-19 32,-22.3 29.5,-22 26,-19',
'Angola':'12.3,-6 16,-6 16.8,-7.3 20,-7 22,-9.5 22,-11 22,-16.3 23.3,-17.7 21,-18 13.5,-17 11.8,-17.3 13.5,-12 13.3,-9',
'Namibia':'11.8,-17.3 13.5,-17 21,-18 23.3,-17.7 25,-17.8 21,-18.3 20,-22 20,-28.5 17,-28.7 14.5,-22',
'Botswana':'21,-18.3 25,-17.8 26,-19 29.5,-22 27,-24 25.5,-25.7 23,-25.3 20,-25 20,-22',
'South Africa':'17,-28.7 20,-28.5 20,-25 23,-25.3 25.5,-25.7 27,-24 29.5,-22 32,-22.3 32,-24 32.8,-26 31,-30 28,-33 25.5,-34 20,-34.8 18.4,-34 18,-32',
'Lesotho':'27.2,-29.5 28.7,-28.7 29.3,-29.7 28,-30.5',
'Madagascar':'49.3,-12 50.5,-15.5 47.5,-24.8 45,-25.5 43.5,-23 44.4,-19 47,-15.5'
};
const baseGeometry = {
'Ocean': LL+','+LT+' '+LR+','+LT+' '+LR+','+LB+' '+LL+','+LB,
'Antarctica': LL+',-75 -100.5,-75.3 -100.5,-74 -101.3,-72.6 -97.9,-72 -94.5,-72.6 -87.7,-72.9 -82.6,-74 -79.2,-73.9 -76.7,-72.6 -70.7,-73.4 -72.4,-71 -69.9,-69.1 -65.6,-69.1 -63.1,-65.9 -59.7,-65.9 -59.2,-67.4 -59.7,-74.9 -53.7,-76 -47.8,-77.8 -35,-78.4 -32.5,-77.4 -25.7,-76.4 -24,-74.4 -18,-72.9 -11.3,-71.9 -7.9,-70.7 -0.2,-70.2 14.2,-70 26.1,-70.5 33.8,-69.1 39.7,-70 41.4,-68.3 49.1,-67.4 52.5,-66.1 55.9,-66.1 60.1,-67.7 70.3,-68 73.7,-69.7 83.9,-66.8 95.8,-65.6 107.7,-66.8 112.8,-66.1 117.9,-67.2 128.9,-66.8 134.9,-66.2 145.1,-67.4 148.5,-68.3 153.6,-68.3 160.4,-70.5 '+LR+',-70.8 '+LR+','+LB+' '+LL+','+LB,
'Svalbard':'11.6,79.5 16,80 20,79.5 20,78.5 17,76.8 15,77 14,78|20,80.2 27.5,80.2 25,79.3 21,79.5',
'Western Sahara':'-13,27.7 -8.7,27.7 -8.7,26 -12,26 -12,23.4 -13,23 -13,21.3 -17,21.3 -16,23.7 -14.5,26',
'French Guiana':'-54,5.8 -51.7,4.2 -52.7,2.3 -54.3,2.3',
'Turkmenistan':'53,42.2 56,41.3 57,41.4 61.5,41 65,37.3 64,36 61.2,35.4 61,36.6 56,38 53.8,37.3 53,39.5',
'North Korea':'124.4,40 128,42 130.7,42.3 129.7,41 127.5,39.8 128.3,38.6 126.6,37.8 125,38'
};

function toGeoJSON(src){
  return {type:'FeatureCollection',features:Object.keys(src).map(function(name){
    const rings=src[name].split('|').map(function(r){
      return r.trim().split(/\s+/).map(function(p){return p.split(',').map(Number);});
    });
    return {type:'Feature',properties:{name:name},geometry:{type:'MultiPolygon',coordinates:rings.map(function(r){r=r.slice();r.push(r[0]);return [r];})}};
  })};
}
echarts.registerMap('world',toGeoJSON(geometry));
echarts.registerMap('base',toGeoJSON(baseGeometry));

const mercator={
  project:function(p){return [p[0]*Math.PI/180,-Math.log(Math.tan(Math.PI/4+p[1]*Math.PI/360))];},
  unproject:function(p){return [p[0]*180/Math.PI,(2*Math.atan(Math.exp(-p[1]))-Math.PI/2)*180/Math.PI];}
};

// ---------- chart ----------
const FONT='Lato';
const head=function(text,left,top){return {text:text,left:left,top:top,padding:0,textStyle:{fontFamily:FONT,fontWeight:300,fontSize:32.5,color:'#4a4a4a'}};};
const sub=function(text,left,top,extra){return Object.assign({text:text,left:left,top:top,padding:0,textStyle:{fontFamily:FONT,fontWeight:400,fontSize:19,color:'#333'}},extra||{});};

function lineS(name,data,z){
  return {type:'line',name:name,xAxisIndex:1,yAxisIndex:1,data:data,smooth:0.35,showSymbol:false,symbol:'none',z:z,
    lineStyle:{width:4.6,color:locationColors[name],cap:'round',join:'round'},itemStyle:{color:locationColors[name]},animation:false,silent:true};
}
function est(arr){const out=new Array(pad).fill(null);return out.concat(arr);}
function estS(name,arr,z){const s=lineS(name,est(arr),z);s.smooth=false;return s;}
function band(low,high,color,z){
  return {type:'custom',xAxisIndex:1,yAxisIndex:1,coordinateSystem:'cartesian2d',z:z,silent:true,animation:false,clip:false,
    data:low.map(function(v,i){return [pad+i,v,high[i]];}),
    encode:{x:0,y:[1,2]},
    renderItem:function(params,api){
      if(params.dataIndex!==0)return null;
      const up=[],dn=[];
      low.forEach(function(v,i){up.push(api.coord([pad+i,high[i]]));dn.unshift(api.coord([pad+i,v]));});
      return {type:'polygon',shape:{points:up.concat(dn)},style:{fill:color}};
    }};
}

const barSeries=continents.map(function(c,i){
  return {type:'bar',name:c,xAxisIndex:0,yAxisIndex:0,stack:'deaths',barWidth:61,silent:true,animation:false,
    itemStyle:{color:continentColors[i]},data:continents.map(function(_,j){return j===i?continentDeaths[i]:null;})};
});
const lineSeries=[
  {type:'line',xAxisIndex:1,yAxisIndex:1,data:[],z:1,silent:true,animation:false,symbol:'none',
    markLine:{silent:true,animation:false,symbol:'none',label:{show:false},data:[
      {yAxis:10,lineStyle:{color:'#efefef',type:'solid',width:2}},
      {yAxis:20,lineStyle:{color:'#efefef',type:'solid',width:2}},
      {yAxis:0,lineStyle:{color:'#bdbdbd',type:'dashed',width:1}}]}},
  band(usLow,usHigh,'rgba(134,188,182,0.30)',2),
  band(ukLow,ukHigh,'rgba(241,206,99,0.28)',2),
  estS('United States, Estimate',usEst,3),
  estS('United Kingdom, Estimate',ukEst,4),
  estS('Mexico, Estimate',mxEst,5),
  estS('India, Estimate',inEst,6),
  estS('China, Estimate',cnEst,7),
  Object.assign(lineS('United States, Actual',usActual,3),{markPoint:{symbol:'circle',symbolSize:0,silent:true,animation:false,
    data:[{coord:['March 2021',8.93]}],
    label:{show:true,position:'top',offset:[-61,4],formatter:'United States\n8.93',lineHeight:27,fontFamily:FONT,fontSize:18.5,color:'#333'}}}),
  lineS('United Kingdom, Actual',ukActual,4),
  lineS('Mexico, Actual',mxActual,5),
  lineS('India, Actual',inActual,6),
  lineS('China, Actual',cnActual,7)
];
const bounds=[[LL,LT],[LR,LB]];
const mapSeries={type:'map',map:'world',projection:mercator,boundingCoords:bounds,showLegendSymbol:false,left:19,top:84,width:581,height:630,roam:false,silent:true,selectedMode:false,z:3,animation:false,
  label:{show:false},emphasis:{disabled:true},
  itemStyle:{borderColor:'#6f6a70',borderWidth:0.9,areaColor:'#eee'},
  data:mapCountries.map(function(n,i){return {name:n,value:mapValues[i]};})};

const legendBase={orient:'vertical',icon:'rect',itemWidth:22,itemHeight:21,itemGap:9,selectedMode:false,padding:0,textStyle:{fontFamily:FONT,fontWeight:300,fontSize:18.5,color:'#4f4f4f',padding:[2,0,0,3]}};
const tickText={fontFamily:FONT,fontWeight:300,fontSize:18.5,color:'#4f4f4f'};

const chart=echarts.init(document.getElementById('c'),null,{renderer:'canvas'});
chart.setOption({
  animation:false,
  backgroundColor:'#fff',
  textStyle:{fontFamily:FONT},
  title:[
    head('Percent Population Infected Per Country',24,34),
    head('Global Numbers',621,34),
    head('Cumulative Deaths Per Continent',621,226),
    head('Infected Population Percentage',621,482),
    sub('Percent Population Infect..',1635,28),
    sub('Continent',1456,217),
    sub('Location, Forecast ..',1456,475),
    sub('Continent',1043,280)
  ],
  geo:{map:'base',projection:mercator,boundingCoords:bounds,left:19,top:84,width:581,height:630,roam:false,silent:true,z:1,
    label:{show:false},emphasis:{disabled:true},itemStyle:{areaColor:'#70CDF1',borderWidth:0},
    regions:[
      {name:'Ocean',itemStyle:{areaColor:'#70CDF1',borderWidth:0}},
      {name:'Antarctica',itemStyle:{areaColor:'#F2EDE7',borderWidth:0}},
      {name:'Svalbard',itemStyle:{areaColor:'#F2EDE7',borderWidth:0}},
      {name:'Western Sahara',itemStyle:{areaColor:'#F2EDE7',borderColor:'#6f6a70',borderWidth:0.9}},
      {name:'French Guiana',itemStyle:{areaColor:'#E9ECC8',borderColor:'#6f6a70',borderWidth:0.9}},
      {name:'Turkmenistan',itemStyle:{areaColor:'#E9ECC8',borderColor:'#6f6a70',borderWidth:0.9}},
      {name:'North Korea',itemStyle:{areaColor:'#E9ECC8',borderColor:'#6f6a70',borderWidth:0.9}}
    ]},
  visualMap:{type:'continuous',min:0,max:17.13,seriesIndex:0,orient:'horizontal',left:1627,top:42,itemWidth:25,itemHeight:116,text:['17.13','0.00'],textGap:6,calculable:false,realtime:false,hoverLink:false,
    inRange:{color:['#EDCFE3','#BF93A8','#7C4F7A']},textStyle:{fontFamily:FONT,fontWeight:300,fontSize:18,color:'#4f4f4f'},z:6},
  grid:[
    {left:727,top:305,width:715,height:117},
    {left:696,top:530.3,width:743,height:98}
  ],
  xAxis:[
    {type:'category',gridIndex:0,data:continents,axisLine:{lineStyle:{color:'#efefef',width:2}},axisTick:{show:true,length:7,lineStyle:{color:'#e6e6e6'}},
      axisLabel:Object.assign({margin:13,interval:0,formatter:function(v){return v.indexOf('America')>=0?v.slice(0,11)+'..':v;}},tickText)},
    {type:'category',gridIndex:1,data:months,boundaryGap:false,axisLine:{onZero:false,lineStyle:{color:'#efefef',width:2}},axisTick:{show:true,interval:0,length:5,lineStyle:{color:'#e6e6e6'}},
      axisLabel:Object.assign({interval:5,margin:17,alignMinLabel:'left'},tickText),
      name:'Month',nameLocation:'middle',nameGap:55,nameTextStyle:{fontFamily:FONT,fontSize:18.5,color:'#333'}}
  ],
  yAxis:[
    {type:'value',gridIndex:0,min:0,max:1254000,interval:500000,axisLine:{show:false},axisTick:{show:false},
      splitLine:{showMaxLine:false,showMinLine:false,lineStyle:{color:'#efefef',width:2}},
      axisLabel:Object.assign({margin:12,showMaxLabel:false,verticalAlignMinLabel:'bottom',formatter:function(v){return (v/1000)+'K';}},tickText),
      name:'Total Death ..',nameLocation:'middle',nameGap:78,nameRotate:90,nameTextStyle:{fontFamily:FONT,fontSize:17,color:'#333'}},
    {type:'value',gridIndex:1,min:-1.6,max:26,interval:0.4,axisLine:{show:false},axisTick:{show:false},
      splitLine:{show:false},
      axisLabel:Object.assign({margin:14,rich:{z:{fontFamily:FONT,fontWeight:300,fontSize:18.5,color:'#4f4f4f',padding:[0,0,8,0]}},formatter:function(v){if(Math.abs(v)<1e-6)return '{z|0}';return Math.abs(v-Math.round(v/10)*10)<1e-6?String(Math.round(v)):'';}},tickText),
      name:'Avg. Perc..',nameLocation:'middle',nameGap:47,nameRotate:90,nameTextStyle:{fontFamily:FONT,fontSize:17.5,color:'#333'}}
  ],
  legend:[
    Object.assign({},legendBase,{left:1458,top:243,data:continents}),
    Object.assign({},legendBase,{left:1458,top:500,data:locationLegend.slice(0,8),formatter:function(n){return n.length>15?n.slice(0,13)+'..':n;}})
  ],
  series:[mapSeries].concat(barSeries,lineSeries),
  graphic:{elements:[
    {type:'rect',z:0,shape:{x:18.5,y:83.5,width:583,height:631},style:{fill:'none',stroke:'#dcdcdc',lineWidth:1},silent:true},
    {type:'rect',z:8,shape:{x:24,y:691,width:122,height:19},style:{fill:'rgba(255,255,255,0.9)'},silent:true},
    {type:'text',z:9,x:30,y:694,style:{text:'© Mapbox © OSM',font:'13.5px "Liberation Sans"',fill:'#666'},silent:true},
    {type:'rect',z:0,shape:{x:1684,y:53,width:116,height:29},style:{fill:'#A9A498'},silent:true},
    {type:'rect',z:0,shape:{x:614,y:83,width:982,height:29},style:{fill:'#19D9FF'},silent:true},
    {type:'rect',z:0,shape:{x:614,y:112,width:982,height:57},style:{fill:'#DCE8FD'},silent:true},
    {type:'line',z:1,shape:{x1:614,y1:112.5,x2:1596,y2:112.5},style:{stroke:'#c9c9c9',lineWidth:1},silent:true},
    {type:'line',z:1,shape:{x1:614,y1:169,x2:1622,y2:169},style:{stroke:'#bdbdbd',lineWidth:1.5},silent:true},
    {type:'line',z:1,shape:{x1:1022,y1:112,x2:1022,y2:169},style:{stroke:'#cccccc',lineWidth:1.5},silent:true},
    {type:'line',z:1,shape:{x1:1430,y1:112,x2:1430,y2:169},style:{stroke:'#cccccc',lineWidth:1.5},silent:true},
    {type:'text',z:2,x:1015,y:99,style:{text:'Total Cases',align:'right',verticalAlign:'middle',font:'400 19.5px Lato',fill:'#333'},silent:true},
    {type:'text',z:2,x:1423,y:99,style:{text:'Total Deaths',align:'right',verticalAlign:'middle',font:'400 19.5px Lato',fill:'#333'},silent:true},
    {type:'text',z:2,x:1594,y:99,style:{text:'Death Percentage',align:'right',verticalAlign:'middle',font:'400 19.5px Lato',fill:'#333'},silent:true},
    {type:'rect',z:0,shape:{x:1597.5,y:112.5,width:24,height:56},style:{fill:'#fff',stroke:'#bdbdbd',lineWidth:1},silent:true},
    {type:'rect',z:1,shape:{x:1598,y:145,width:23,height:23},style:{fill:'#EEEEEE',stroke:'#bdbdbd',lineWidth:0.6},silent:true},
    {type:'rect',z:0,shape:{x:614.5,y:172.5,width:981,height:23},style:{fill:'#fff',stroke:'#b5b5b5',lineWidth:1},silent:true},
    {type:'rect',z:1,shape:{x:615,y:173,width:786,height:22},style:{fill:'#EFEFEF',stroke:'#b5b5b5',lineWidth:0.6},silent:true},
    {type:'rect',z:50,shape:{x:0,y:714,width:1880,height:17},style:{fill:'#fff'},silent:true},
    {type:'rect',z:50,shape:{x:1482,y:708,width:200,height:23},style:{fill:'#fff'},silent:true}
  ]}
});
</script></body></html>
